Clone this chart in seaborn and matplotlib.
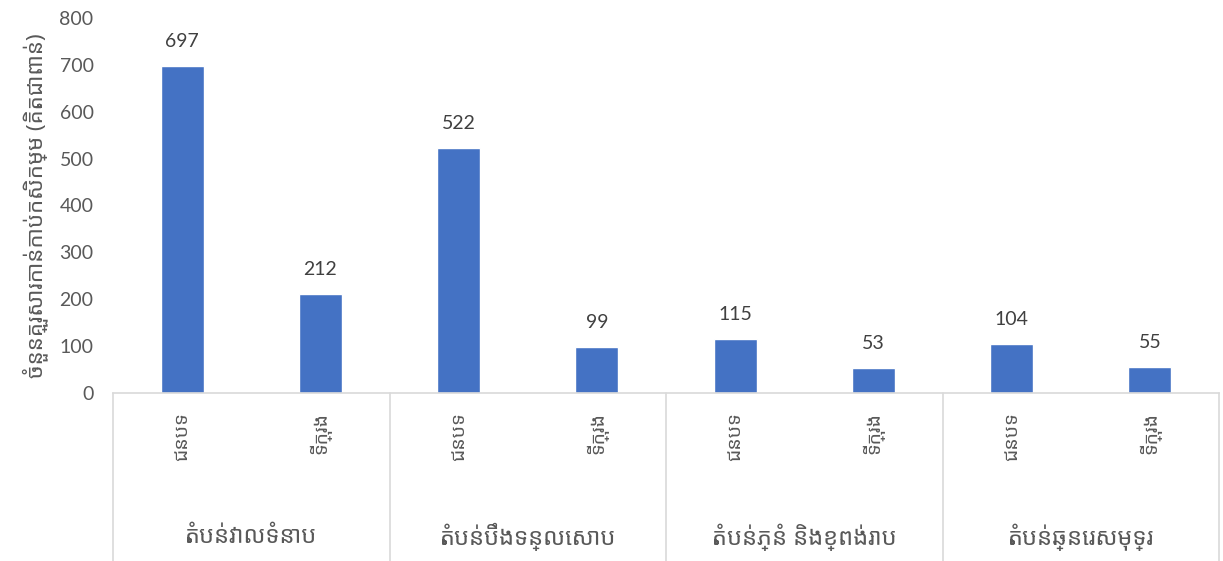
import matplotlib
matplotlib.use("Agg")
import matplotlib.pyplot as plt
import matplotlib.transforms as mtransforms
import seaborn as sns
import pandas as pd

# data
zones = ["តំបន់វាលទំនាប", "តំបន់បឹងទន្លេសាប", "តំបន់ភ្នំ និងខ្ពង់រាប", "តំបន់ឆ្នេរសមុទ្រ"]
areas = ["ជនបទ", "ទីក្រុង"]
values = [697, 212, 522, 99, 115, 53, 104, 55]
y_label = "ចំនួនគ្រួសារកាន់កាប់កសិកម្ម (គិតជាពាន់)"

rows = []
for i, z in enumerate(zones):
    for j, a in enumerate(areas):
        rows.append({"key": f"{i}-{j}", "zone": z, "area": a, "value": values[i * 2 + j]})
df = pd.DataFrame(rows)

sns.set_theme(style="white")
plt.rcParams["font.family"] = ["Noto Sans Khmer", "DejaVu Sans"]

fig = plt.figure(figsize=(12.23, 5.61), dpi=100)
ax = fig.add_axes([113 / 1223, 1 - 393 / 561, 1106 / 1223, 375 / 561])

sns.barplot(data=df, x="key", y="value", color="#4472C4", width=0.31,
            saturation=1, ax=ax)

ax.set_xlim(-0.5, len(df) - 0.5)
ax.set_ylim(0, 800)
ax.set_yticks(range(0, 801, 100))
ax.tick_params(axis="y", labelsize=14, labelcolor="#595959", length=0, pad=14)
for lab in ax.get_yticklabels():
    lab.set_family(["Lato", "DejaVu Sans"])

# value labels
for k, v in enumerate(df["value"]):
    ax.text(k, v + 34, str(v), ha="center", va="bottom", fontsize=14,
            color="#404040", family=["Lato", "DejaVu Sans"])

# inner category labels, rotated
ax.set_xticks(range(len(df)))
ax.set_xticklabels(df["area"], rotation=90, va="top", fontsize=14, color="#595959")
ax.tick_params(axis="x", length=0, pad=14)
ax.set_xlabel("")

# outer group labels and separators
trans = mtransforms.blended_transform_factory(ax.transData, ax.transAxes)
for i, z in enumerate(zones):
    ax.text(i * 2 + 0.5, -0.385, z, transform=trans, ha="center", va="center",
            fontsize=17, color="#595959")
for b in [-0.5, 1.5, 3.5, 5.5, 7.5]:
    ax.plot([b, b], [0, -0.45], transform=trans, color="#d9d9d9", lw=1.2,
            clip_on=False)

ax.set_ylabel(y_label, fontsize=16, color="#595959", labelpad=8)

sns.despine(ax=ax, left=True, top=True, right=True)
ax.spines["bottom"].set_color("#d9d9d9")
ax.spines["bottom"].set_linewidth(1.2)

fig.savefig("out.png", dpi=100)
